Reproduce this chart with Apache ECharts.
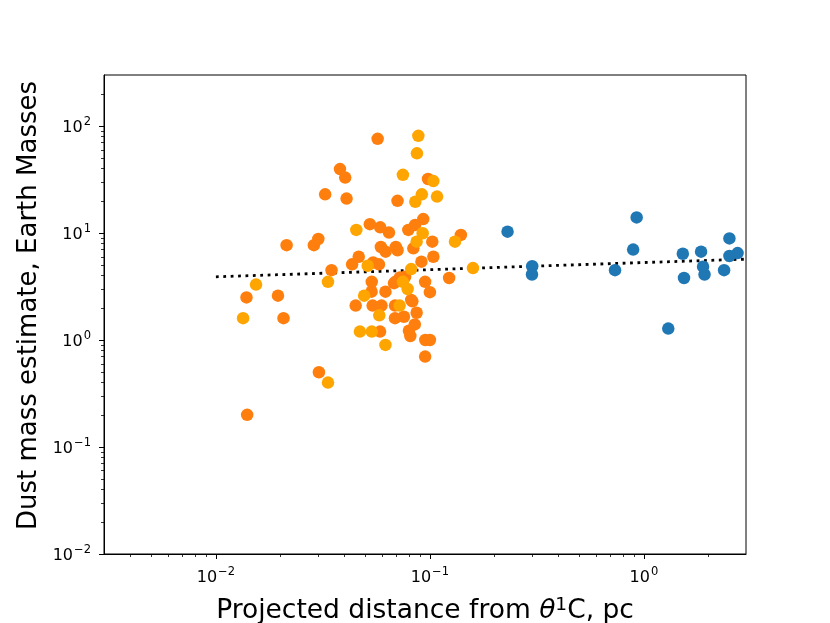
<!DOCTYPE html>
<html>
<head>
<meta charset="utf-8">
<script src="https://cdn.jsdelivr.net/npm/echarts@6/dist/echarts.min.js"></script>
<style>
  html, body { margin: 0; padding: 0; background: #fff; }
  #main { width: 830px; height: 623px; }
</style>
</head>
<body>
<div id="main"></div>
<script>
// inner disks, darker orange
var orangeX = [0.057, 0.038, 0.0402, 0.098, 0.0324, 0.0408, 0.0706, 0.0524, 0.0586, 0.0644,
    0.0793, 0.0853, 0.0931, 0.0837, 0.1026, 0.1396, 0.0214, 0.0287, 0.0301, 0.059,
    0.0621, 0.0693, 0.0706, 0.1038, 0.0913, 0.0465, 0.0433, 0.0543, 0.0578, 0.0347,
    0.123, 0.095, 0.1, 0.0535, 0.0139, 0.0195, 0.0207, 0.0303, 0.014, 0.045,
    0.0534, 0.062, 0.054, 0.0594, 0.0585, 0.0687, 0.0687, 0.0756, 0.0828, 0.0867,
    0.085, 0.0798, 0.081, 0.0952, 0.1, 0.095, 0.068, 0.0724, 0.069, 0.0766, 0.0818];
var orangeY = [76, 39.6, 33, 32, 23, 21, 20, 12.1, 11.3, 10.1,
    10.7, 11.9, 13.5, 7.2, 8.3, 9.6, 7.7, 7.7, 8.8, 7.4,
    6.7, 7.4, 6.9, 6.0, 5.4, 6.0, 5.1, 5.3, 5.1, 4.5,
    3.8, 3.5, 2.8, 3.5, 2.5, 2.6, 1.6, 0.5, 0.2, 2.1,
    2.83, 2.83, 2.1, 2.1, 1.2, 2.1, 1.6, 1.65, 2.3, 1.8,
    1.4, 1.22, 1.09, 1.0, 1.0, 0.7, 3.4, 3.85, 3.5, 3.9, 2.37];
// lighter orange
var yellowX = [0.0883, 0.087, 0.0748, 0.1038, 0.0917, 0.0855, 0.108, 0.0453, 0.0925, 0.0867,
    0.131, 0.0512, 0.0334, 0.0818, 0.159, 0.0154, 0.0748, 0.0787, 0.0134, 0.0334,
    0.0493, 0.058, 0.0471, 0.0535, 0.062, 0.0722];
var yellowY = [81, 55.6, 35, 30.6, 23, 19.6, 21.9, 10.7, 9.95, 8.3,
    8.3, 4.95, 3.5, 4.6, 4.7, 3.3, 3.5, 3.0, 1.6, 0.4,
    2.6, 1.7, 1.2, 1.2, 0.9, 2.1];
// outer disks
var blueX = [0.2306, 0.3007, 0.30, 0.733, 0.925, 0.891, 1.30, 1.52, 1.54, 1.85,
    1.89, 1.92, 2.37, 2.51, 2.51, 2.74];
var blueY = [10.3, 4.9, 4.1, 4.5, 14.0, 7.0, 1.28, 6.4, 3.8, 6.7,
    4.85, 4.1, 4.5, 8.9, 6.1, 6.5];
// fit line
var fitX = [0.01, 3];
var fitY = [3.9, 5.7];

var xMajor = [0.01, 0.1, 1];
var xMinor = [0.004, 0.005, 0.006, 0.007, 0.008, 0.009,
    0.02, 0.03, 0.04, 0.05, 0.06, 0.07, 0.08, 0.09,
    0.2, 0.3, 0.4, 0.5, 0.6, 0.7, 0.8, 0.9, 2];
var yMajor = [0.01, 0.1, 1, 10, 100];
var yMinor = [0.02, 0.03, 0.04, 0.05, 0.06, 0.07, 0.08, 0.09,
    0.2, 0.3, 0.4, 0.5, 0.6, 0.7, 0.8, 0.9,
    2, 3, 4, 5, 6, 7, 8, 9,
    20, 30, 40, 50, 60, 70, 80, 90, 200];

var FONT = 'DejaVu Sans';

function zip(xs, ys) {
    var out = [];
    for (var i = 0; i < xs.length; i++) {
        out.push([xs[i], ys[i]]);
    }
    return out;
}

function powLabel(v) {
    var e = Math.round(Math.log(v) / Math.LN10);
    var s = e < 0 ? '\u2212' + (-e) : '' + e;
    return '{b|10}{s|' + s + '}';
}

var tickRich = {
    b: { fontFamily: FONT, fontSize: 16, color: '#000', verticalAlign: 'bottom', lineHeight: 20 },
    s: { fontFamily: FONT, fontSize: 11.5, color: '#000', verticalAlign: 'top', lineHeight: 20, padding: [0, 0, 8, 1] }
};

function logAxis(min, max, major, minor, extra) {
    var major_ = {
        type: 'log',
        logBase: 10,
        min: min,
        max: max,
        axisLine: { show: true, onZero: false, lineStyle: { color: '#000', width: 1 } },
        axisTick: { show: true, customValues: major, length: 5, lineStyle: { color: '#000', width: 1 } },
        axisLabel: { show: true, customValues: major, formatter: powLabel, rich: tickRich, margin: 9 },
        splitLine: { show: false },
        minorTick: { show: false }
    };
    var minor_ = {
        type: 'log',
        logBase: 10,
        min: min,
        max: max,
        axisLine: { show: false },
        axisTick: { show: true, customValues: minor, length: 3, lineStyle: { color: '#000', width: 0.8 } },
        axisLabel: { show: false },
        splitLine: { show: false }
    };
    for (var k in extra) {
        major_[k] = extra[k];
    }
    return [major_, minor_];
}

var xAxes = logAxis(0.003, 3, xMajor, xMinor, {
    name: 'Projected distance from {it|\u03b8}{sup|1}C, pc',
    nameLocation: 'middle',
    nameGap: 42,
    nameTextStyle: {
        fontFamily: FONT, fontSize: 26.5, color: '#000',
        rich: {
            it: { fontFamily: FONT, fontSize: 26.5, fontStyle: 'italic', color: '#000' },
            sup: { fontFamily: FONT, fontSize: 18.5, color: '#000', padding: [0, 0, 12, 0] }
        }
    }
});
xAxes[0].position = 'bottom';
xAxes[1].position = 'bottom';
xAxes[0].axisLabel.margin = 12;

var yAxes = logAxis(0.01, 300, yMajor, yMinor, {
    name: 'Dust mass estimate, Earth Masses',
    nameLocation: 'middle',
    nameGap: 62,
    nameTextStyle: { fontFamily: FONT, fontSize: 26, color: '#000', padding: [0, 0, 0, 18] }
});
yAxes[0].position = 'left';
yAxes[1].position = 'left';
yAxes[0].axisLabel.margin = 13;

var myChart = echarts.init(document.getElementById('main'));
var option = {
    backgroundColor: '#fff',
    animation: false,
    grid: {
        left: 104,
        right: 84,
        top: 75,
        bottom: 69,
        outerBoundsMode: 'none',
        containLabel: false,
        show: true,
        borderColor: '#000',
        borderWidth: 1,
        backgroundColor: 'transparent'
    },
    xAxis: xAxes,
    yAxis: yAxes,
    series: [{
        name: 'fit',
        type: 'line',
        data: zip(fitX, fitY),
        symbol: 'none',
        lineStyle: { color: '#000', width: 2.8, type: [2.8, 4.6], cap: 'butt' },
        z: 1
    }, {
        name: 'inner',
        type: 'scatter',
        data: zip(orangeX, orangeY),
        symbolSize: 12.5,
        itemStyle: { color: '#ff7f0e', opacity: 1 },
        z: 2
    }, {
        name: 'inner2',
        type: 'scatter',
        data: zip(yellowX, yellowY),
        symbolSize: 12.5,
        itemStyle: { color: '#ffa500', opacity: 1 },
        z: 3
    }, {
        name: 'outer',
        type: 'scatter',
        data: zip(blueX, blueY),
        symbolSize: 12.5,
        itemStyle: { color: '#1f77b4', opacity: 1 },
        z: 4
    }]
};
myChart.setOption(option);
</script>
</body>
</html>
